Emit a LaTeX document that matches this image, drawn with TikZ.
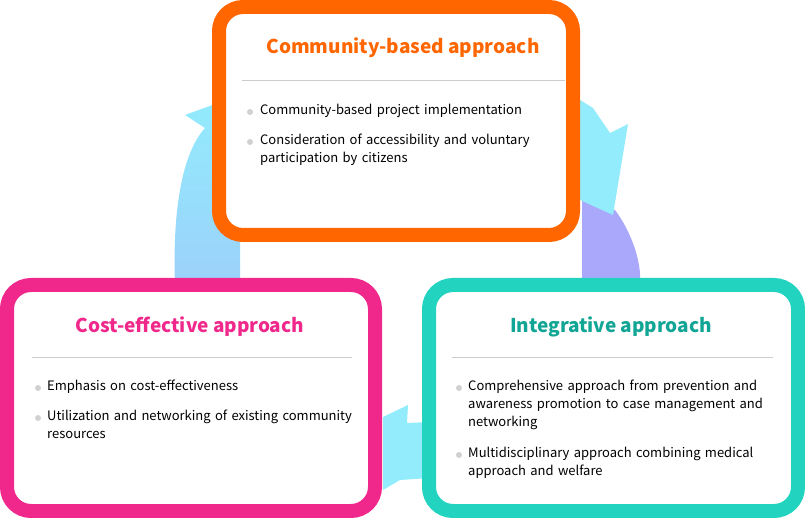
\documentclass[tikz,border=0pt]{standalone}
\usepackage{fontspec}
\setmainfont{Noto Sans CJK KR}
\definecolor{org}{HTML}{FF6600}
\definecolor{pnk}{HTML}{F0288C}
\definecolor{tel}{HTML}{22D3C0}
\definecolor{teltxt}{HTML}{10A594}
\definecolor{cy}{HTML}{92ECFC}
\definecolor{pur}{HTML}{AAA8FA}
\begin{document}
\begin{tikzpicture}[x=1pt,y=-1pt,
 box/.style={line width=14pt,rounded corners=24pt,fill=white},
 ttl/.style={font=\bfseries\fontsize{19}{22}\selectfont,anchor=center},
 bul/.style={font=\fontsize{13}{18}\selectfont,anchor=north west,align=left,text width=#1,inner sep=0pt},
 dot/.style={circle,fill=black!18,inner sep=0pt,minimum size=6pt}]
\useasboundingbox (0,0) rectangle (805,518);
% arrows behind
\shade[top color=cy,bottom color=cy!60!pur] (175,285) .. controls (172,200) and (185,150) .. (205,128) -- (185,115) -- (240,95) -- (240,285) -- cycle;
\shade[top color=pur,bottom color=pur] (582,285) -- (582,200) -- (615,210) .. controls (630,230) and (642,260) .. (640,285) -- cycle;
\fill[cy] (593,108) -- (610,133) -- (628,124) -- (613,215) -- (580,200) -- (580,100) -- cycle;
\fill[cy] (383,417) -- (408,405) -- (407,423) -- (430,422) -- (430,478) -- (400,480) -- (383,490) -- cycle;
% boxes
\node[draw=org,box,minimum width=354pt,minimum height=228pt] (top) at (396,121) {};
\node[draw=pnk,box,minimum width=368pt,minimum height=226pt] (lft) at (191,398) {};
\node[draw=tel,box,minimum width=369pt,minimum height=226pt] (rgt) at (613.5,398) {};
% top
\node[ttl,text=org] (t1) at (403,48) {Community-based approach};
\draw[black!20] (242,80) -- (565,80);
\node[dot] (d1) at (250,112) {}; \node[bul=300pt] (b1) at (260,104) {Community-based project implementation};
\node[dot] (d2) at (250,142) {}; \node[bul=300pt] (b2) at (260,134) {Consideration of accessibility and voluntary\\participation by citizens};
% left
\node[ttl,text=pnk] (t2) at (190,327) {Cost-effective approach};
\draw[black!20] (32,357) -- (352,357);
\node[dot] (d3) at (38,388) {}; \node[bul=320pt] (b3) at (47,380) {Emphasis on cost-effectiveness};
\node[dot] (d4) at (38,418) {}; \node[bul=320pt] (b4) at (47,410) {Utilization and networking of existing community\\resources};
% right
\node[ttl,text=teltxt] (t3) at (611,327) {Integrative approach};
\draw[black!20] (452,357) -- (773,357);
\node[dot] (d5) at (459,388) {}; \node[bul=320pt] (b5) at (468,380) {Comprehensive approach from prevention and\\awareness promotion to case management and\\networking};
\node[dot] (d6) at (459,455) {}; \node[bul=320pt] (b6) at (468,447) {Multidisciplinary approach combining medical\\approach and welfare};
\end{tikzpicture}
\end{document}
